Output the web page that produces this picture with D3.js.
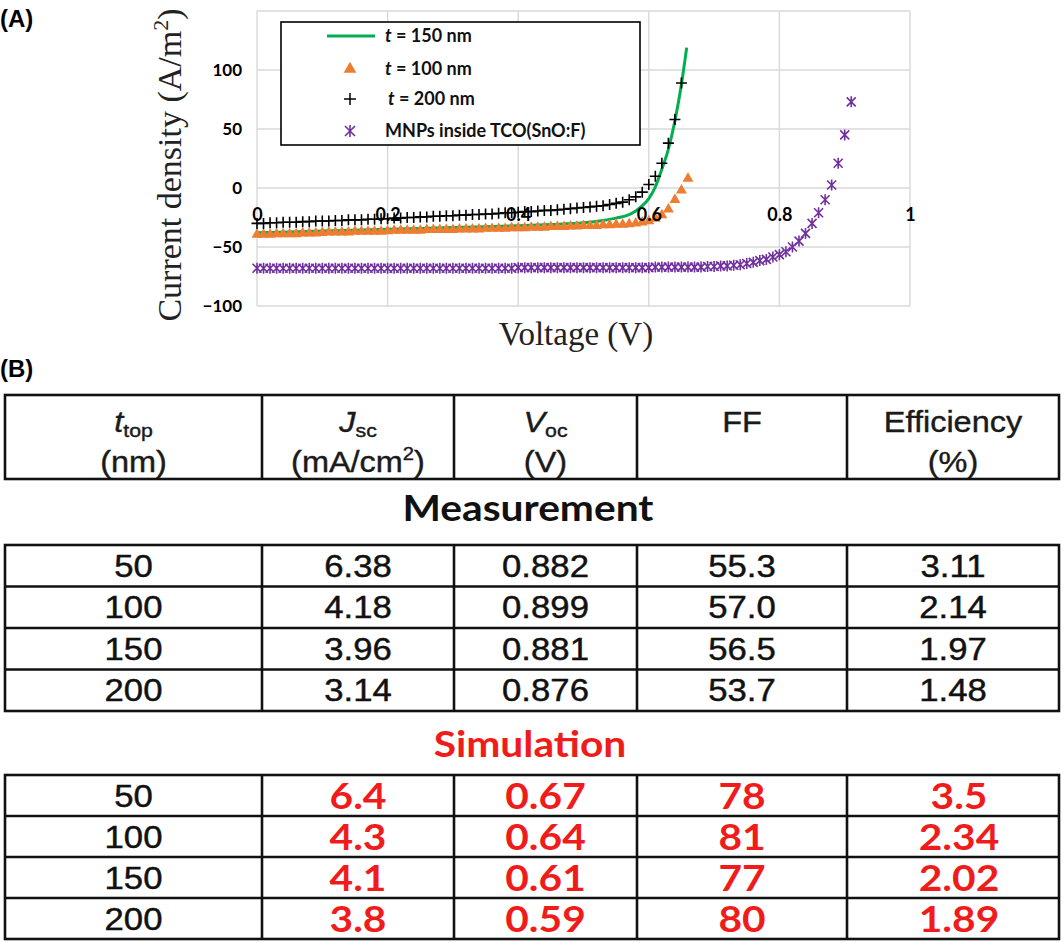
<!DOCTYPE html>
<html><head><meta charset="utf-8">
<script src="https://cdn.jsdelivr.net/npm/d3@7"></script>
<style>body{margin:0;background:#fff}svg{display:block}</style>
</head><body><svg id="c" width="1064" height="943"></svg>
<script>
// ---------------- DATA ----------------
const xTicks = [0, 0.2, 0.4, 0.6, 0.8, 1];
const xTickLabels = ["0", "0.2", "0.4", "0.6", "0.8", "1"];
const yTicks = [-100, -50, 0, 50, 100, 150];
const yTickLabels = ["\u2212100", "\u221250", "0", "50", "100", ""];

const legendLabels = ["t = 150 nm", "t = 100 nm", "t = 200 nm", "MNPs inside TCO(SnO:F)"];

// t = 150 nm (line)
const v150 = [0, 0.1, 0.2, 0.3, 0.4, 0.45, 0.5, 0.53, 0.55, 0.57, 0.58, 0.59, 0.60, 0.61, 0.62, 0.63, 0.64, 0.65, 0.658];
const j150 = [-38, -36.5, -35, -33.5, -32, -31, -29.5, -27.5, -25.5, -22.5, -19.5, -15, -9, 1, 16, 33, 57, 88, 119];

// t = 100 nm (triangles)
const v100 = [0,0.01,0.02,0.03,0.04,0.05,0.06,0.07,0.08,0.09,0.10,0.11,0.12,0.13,0.14,0.15,0.16,0.17,0.18,0.19,0.20,0.21,0.22,0.23,0.24,0.25,0.26,0.27,0.28,0.29,0.30,0.31,0.32,0.33,0.34,0.35,0.36,0.37,0.38,0.39,0.40,0.41,0.42,0.43,0.44,0.45,0.46,0.47,0.48,0.49,0.50,0.51,0.52,0.53,0.54,0.55,0.56,0.57,0.58,0.59,0.60,0.61,0.62,0.63,0.64,0.65,0.66];
const j100 = [-39.5,-39.5,-39.5,-39,-39,-39,-39,-38.5,-38.5,-38.5,-38,-37.5,-37.5,-37.5,-37.5,-37,-37,-37,-37,-37,-36.5,-36,-36,-36,-36,-36,-35.5,-35.5,-35.5,-35.5,-35.5,-35,-35,-35,-35,-34.5,-34.5,-34.5,-34.5,-34,-34,-34,-33.5,-33.5,-33.5,-33,-33,-33,-32.5,-32.5,-32,-32,-32,-31.5,-31.5,-31,-31,-30.5,-30,-29,-28,-26,-23,-18,-10,-2,8];

// t = 200 nm (plus)
const v200 = [0,0.01,0.02,0.03,0.04,0.05,0.06,0.07,0.08,0.09,0.10,0.11,0.12,0.13,0.14,0.15,0.16,0.17,0.18,0.19,0.20,0.21,0.22,0.23,0.24,0.25,0.26,0.27,0.28,0.29,0.30,0.31,0.32,0.33,0.34,0.35,0.36,0.37,0.38,0.39,0.40,0.41,0.42,0.43,0.44,0.45,0.46,0.47,0.48,0.49,0.50,0.51,0.52,0.53,0.54,0.55,0.56,0.57,0.58,0.59,0.60,0.61,0.62,0.63,0.64,0.65];
const j200 = [-30,-30,-29.5,-29.5,-29,-29,-29,-28.5,-28.5,-28,-28,-28,-27.5,-27.5,-27,-27,-27,-26.5,-26.5,-26,-26,-25.5,-25.5,-25,-25,-24.5,-24.5,-24,-24,-23.5,-23.5,-23,-23,-22.5,-22.5,-22,-22,-21.5,-21,-21,-20.5,-20,-20,-19.5,-19,-19,-18.5,-18,-17.5,-17,-16.5,-16,-15.5,-15,-14,-13,-12,-10,-7.5,-3.5,3,10,21,38,58,89];

// MNPs inside TCO (asterisks)
const vMNP = [0,0.01,0.02,0.03,0.04,0.05,0.06,0.07,0.08,0.09,0.10,0.11,0.12,0.13,0.14,0.15,0.16,0.17,0.18,0.19,0.20,0.21,0.22,0.23,0.24,0.25,0.26,0.27,0.28,0.29,0.30,0.31,0.32,0.33,0.34,0.35,0.36,0.37,0.38,0.39,0.40,0.41,0.42,0.43,0.44,0.45,0.46,0.47,0.48,0.49,0.50,0.51,0.52,0.53,0.54,0.55,0.56,0.57,0.58,0.59,0.60,0.61,0.62,0.63,0.64,0.65,0.66,0.67,0.68,0.69,0.70,0.71,0.72,0.73,0.74,0.75,0.76,0.77,0.78,0.79,0.80,0.81,0.82,0.83,0.84,0.85,0.86,0.87,0.88,0.89,0.90,0.91];
const jMNP = [-68,-68,-68,-68,-68,-68,-68,-68,-68,-68,-68,-68,-68,-68,-68,-68,-68,-68,-68,-68,-68,-68,-68,-68,-68,-68,-68,-68,-68,-68,-68,-68,-68,-68,-68,-68,-68,-68,-68,-68,-67.5,-67.5,-67.5,-67.5,-67.5,-67.5,-67.5,-67.5,-67.5,-67.5,-67.5,-67.5,-67.5,-67.5,-67.5,-67.5,-67.5,-67.5,-67.5,-67.5,-67.5,-67,-67,-67,-67,-67,-67,-67,-67,-66.5,-66.5,-66,-66,-65.5,-65,-64,-63,-61.5,-60.5,-58.5,-56.5,-54,-50,-45,-38.5,-30,-21,-10,2.5,21,45,73];

// Table (B)
const headLine1 = ["t|top", "J|sc", "V|oc", "FF", "Efficiency"];
const headLine2 = ["(nm)", "(mA/cm^2)", "(V)", "", "(%)"];
const ttop = ["50", "100", "150", "200"];
const measJsc = ["6.38", "4.18", "3.96", "3.14"];
const measVoc = ["0.882", "0.899", "0.881", "0.876"];
const measFF  = ["55.3", "57.0", "56.5", "53.7"];
const measEff = ["3.11", "2.14", "1.97", "1.48"];
const simJsc = ["6.4", "4.3", "4.1", "3.8"];
const simVoc = ["0.67", "0.64", "0.61", "0.59"];
const simFF  = ["78", "81", "77", "80"];
const simEff = ["3.5", "2.34", "2.02", "1.89"];

// ---------------- DRAW ----------------
const svg = d3.select("#c");
const SERIF = "'Liberation Serif','Times New Roman',serif";
const CAL = "Lato,'Open Sans',sans-serif";
const ARIAL = "'Liberation Sans',Arial,sans-serif";
const C_GREEN = "#00b050", C_ORANGE = "#ed7d31", C_PURPLE = "#7030a0", RED = "#f01c1c";

const x = d3.scaleLinear().domain([0, 1]).range([257, 910]);
const y = d3.scaleLinear().domain([-100, 150]).range([306, 11]);

// panel label
svg.append("text").attr("x", 0).attr("y", 27).attr("font-family", ARIAL)
  .attr("font-weight", "bold").attr("font-size", 24).text("(A)");

// gridlines
const gridG = svg.append("g").attr("stroke", "#d9d9d9").attr("stroke-width", 1.4);
gridG.selectAll("line.v").data(xTicks).join("line").attr("class", "v")
  .attr("x1", d => x(d)).attr("x2", d => x(d)).attr("y1", y(-100)).attr("y2", y(150));
gridG.selectAll("line.h").data(yTicks).join("line").attr("class", "h")
  .attr("y1", d => y(d)).attr("y2", d => y(d)).attr("x1", x(0)).attr("x2", x(1));

// series
const line = d3.line().x(d => x(d[0])).y(d => y(d[1])).curve(d3.curveMonotoneX);
svg.append("path").datum(v150.map((v, i) => [v, j150[i]]))
  .attr("d", line).attr("fill", "none").attr("stroke", C_GREEN).attr("stroke-width", 3);

const tri = d3.symbol().type(d3.symbolTriangle).size(52)();
svg.append("g").selectAll("path").data(v100.map((v, i) => [v, j100[i]])).join("path")
  .attr("d", tri).attr("fill", C_ORANGE)
  .attr("transform", d => `translate(${x(d[0])},${y(d[1])})`);

const plusD = "M-5.5,0H5.5M0,-5.5V5.5";
svg.append("g").selectAll("path").data(v200.map((v, i) => [v, j200[i]])).join("path")
  .attr("d", plusD).attr("fill", "none").attr("stroke", "#000").attr("stroke-width", 1.6)
  .attr("transform", d => `translate(${x(d[0])},${y(d[1])})`);

const astD = "M-4.5,-4.5L4.5,4.5M-4.5,4.5L4.5,-4.5M0,-5.5V5.5";
svg.append("g").selectAll("path").data(vMNP.map((v, i) => [v, jMNP[i]])).join("path")
  .attr("d", astD).attr("fill", "none").attr("stroke", C_PURPLE).attr("stroke-width", 1.6)
  .attr("transform", d => `translate(${x(d[0])},${y(d[1])})`);

// axes (labels only)
const xAxis = d3.axisBottom(x).tickValues(xTicks).tickFormat((d, i) => xTickLabels[i]).tickSize(0).tickPadding(20);
const gx = svg.append("g").attr("transform", `translate(0,${y(0)})`).call(xAxis);
gx.select(".domain").remove();
gx.selectAll("text").attr("font-family", CAL).attr("font-weight", "bold").attr("font-size", 18).attr("fill", "#000");

const yAxis = d3.axisLeft(y).tickValues(yTicks).tickFormat((d, i) => yTickLabels[i]).tickSize(0).tickPadding(15);
const gy = svg.append("g").attr("transform", `translate(${x(0)},0)`).call(yAxis);
gy.select(".domain").remove();
gy.selectAll("text").attr("font-family", CAL).attr("font-weight", "bold").attr("font-size", 17).attr("fill", "#000");

// axis titles
svg.append("text").attr("x", 576).attr("y", 345).attr("text-anchor", "middle")
  .attr("font-family", SERIF).attr("font-size", 33).attr("fill", "#222").text("Voltage (V)");
const yt = svg.append("text").attr("transform", "translate(181,165) rotate(-90)").attr("text-anchor", "middle")
  .attr("font-family", SERIF).attr("font-size", 34).attr("fill", "#222");
yt.append("tspan").text("Current density (A/m");
yt.append("tspan").attr("font-size", 22).attr("dy", -13).text("2");
yt.append("tspan").attr("dy", 13).text(")");

// legend
const lg = svg.append("g");
lg.append("rect").attr("x", 281).attr("y", 22).attr("width", 359).attr("height", 123)
  .attr("fill", "#fff").attr("stroke", "#000").attr("stroke-width", 1.6);
const legY = [36, 69, 99, 131];
lg.append("line").attr("x1", 327).attr("x2", 375).attr("y1", legY[0]).attr("y2", legY[0])
  .attr("stroke", C_GREEN).attr("stroke-width", 3);
lg.append("path").attr("d", d3.symbol().type(d3.symbolTriangle).size(70)())
  .attr("fill", C_ORANGE).attr("transform", `translate(350,${legY[1]})`);
lg.append("path").attr("d", "M-6,0H6M0,-6V6").attr("stroke", "#000").attr("stroke-width", 1.5)
  .attr("transform", `translate(350,${legY[2]})`);
lg.append("path").attr("d", "M-5,-5L5,5M-5,5L5,-5M0,-6V6").attr("stroke", C_PURPLE).attr("stroke-width", 1.6)
  .attr("fill", "none").attr("transform", `translate(350,${legY[3]})`);
legendLabels.forEach((s, i) => {
  const t = lg.append("text").attr("x", i === 2 ? 388 : 385).attr("y", legY[i] + 6)
    .attr("font-family", CAL).attr("font-weight", "bold").attr("font-size", 18).attr("fill", "#111");
  if (s.startsWith("t ")) {
    t.append("tspan").attr("font-style", "italic").text("t");
    t.append("tspan").text(s.slice(1));
  } else t.text(s);
});

// ---------------- TABLE ----------------
svg.append("text").attr("x", 0).attr("y", 377).attr("font-family", ARIAL)
  .attr("font-weight", "bold").attr("font-size", 24).text("(B)");

const colX = [5, 262, 454, 637, 847, 1059];
const colC = colX.slice(0, 5).map((c, i) => (c + colX[i + 1]) / 2);
const SX = 1.12;

function drawGrid(top, rowH, nRows) {
  const g = svg.append("g").attr("stroke", "#111").attr("stroke-width", 2.6).attr("fill", "none");
  const bottom = top + rowH * nRows;
  g.append("rect").attr("x", colX[0]).attr("y", top).attr("width", colX[5] - colX[0]).attr("height", bottom - top);
  for (let i = 1; i < 5; i++) g.append("line").attr("x1", colX[i]).attr("x2", colX[i]).attr("y1", top).attr("y2", bottom);
  for (let r = 1; r < nRows; r++) g.append("line").attr("x1", colX[0]).attr("x2", colX[5]).attr("y1", top + r * rowH).attr("y2", top + r * rowH);
}
function cell(cx, baseY, str, font, size, weight, color, sx, sw) {
  return svg.append("text").attr("transform", `translate(${cx},${baseY}) scale(${sx},1)`)
    .attr("text-anchor", "middle").attr("font-family", font).attr("font-size", size)
    .attr("font-weight", weight).attr("fill", color)
    .attr("stroke", sw ? color : "none").attr("stroke-width", sw || 0).text(str);
}

// header
drawGrid(395, 84, 1);
headLine1.forEach((s, i) => {
  const t = svg.append("text").attr("transform", `translate(${colC[i]},432) scale(${SX},1)`)
    .attr("text-anchor", "middle").attr("font-family", ARIAL).attr("font-size", 29).attr("fill", "#1a1a1a")
    .attr("stroke", "#1a1a1a").attr("stroke-width", 0.4);
  if (s.includes("|")) {
    const [a, b] = s.split("|");
    t.append("tspan").attr("font-style", "italic").text(a);
    t.append("tspan").attr("font-size", 19).attr("dy", 5).text(b);
  } else t.text(s);
});
headLine2.forEach((s, i) => {
  if (!s) return;
  const t = svg.append("text").attr("transform", `translate(${colC[i]},472) scale(${SX},1)`)
    .attr("text-anchor", "middle").attr("font-family", ARIAL).attr("font-size", 29).attr("fill", "#1a1a1a")
    .attr("stroke", "#1a1a1a").attr("stroke-width", 0.4);
  if (s.includes("^")) {
    const [a, b] = s.split("^");
    t.append("tspan").text(a);
    t.append("tspan").attr("font-size", 18).attr("dy", -12).text(b.slice(0, 1));
    t.append("tspan").attr("dy", 12).text(b.slice(1));
  } else t.text(s);
});

// Measurement
cell(528, 521, "Measurement", CAL, 37, "bold", "#111", 1.1);
const mTop = 545, mH = 41.5;
drawGrid(mTop, mH, 4);
const measCols = [ttop, measJsc, measVoc, measFF, measEff];
measCols.forEach((col, ci) => col.forEach((s, r) => {
  cell(colC[ci], mTop + r * mH + mH / 2 + 11, s, ARIAL, 31, "normal", "#111", SX, 0.45);
}));

// Simulation
cell(530, 757, "Simulation", CAL, 37, "bold", RED, 1.1);
const sTop = 775, sH = 41;
drawGrid(sTop, sH, 4);
const simCols = [simJsc, simVoc, simFF, simEff];
ttop.forEach((s, r) => cell(colC[0], sTop + r * sH + sH / 2 + 11, s, ARIAL, 31, "normal", "#111", SX, 0.45));
simCols.forEach((col, ci) => col.forEach((s, r) => {
  cell(colC[ci + 1] + (ci === 3 ? 6 : 0), sTop + r * sH + sH / 2 + 13, s, CAL, 37, "bold", RED, 1.1);
}));
</script></body></html>
